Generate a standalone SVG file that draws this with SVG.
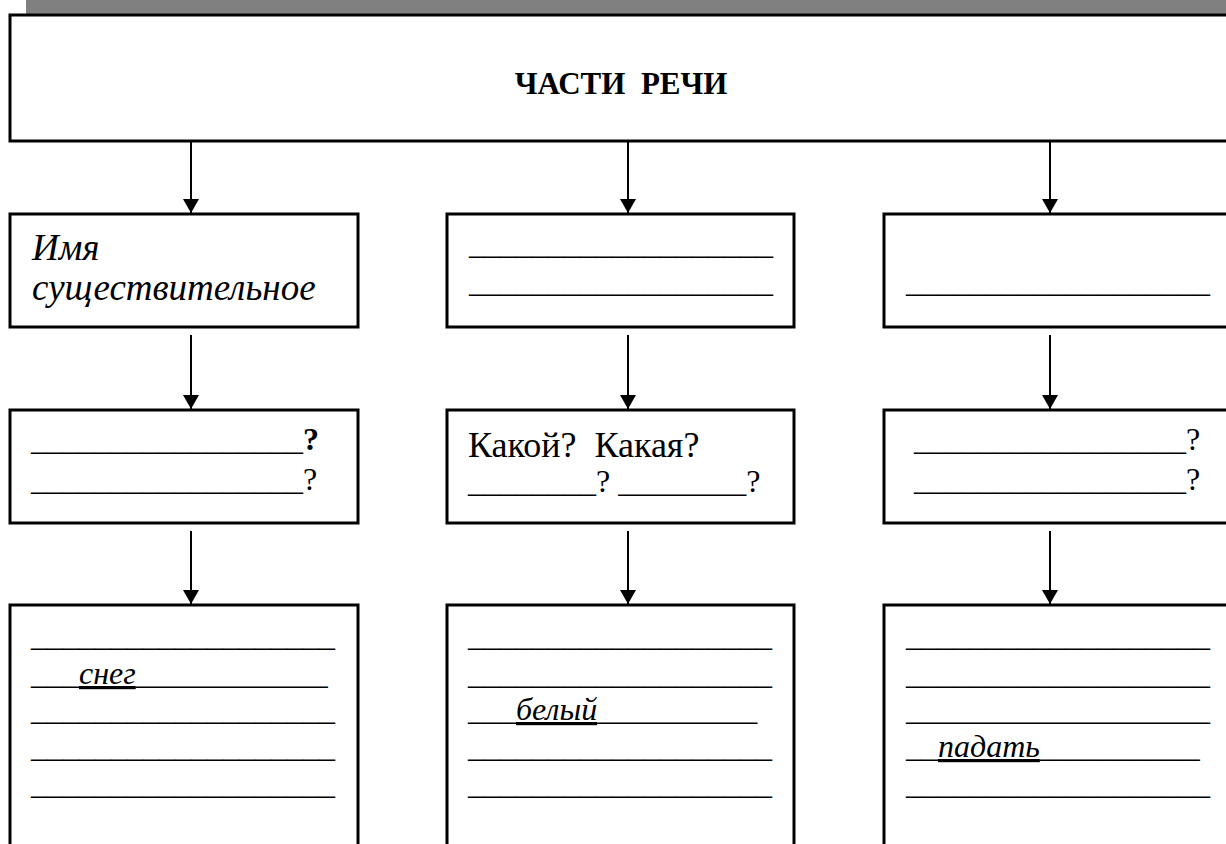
<svg xmlns="http://www.w3.org/2000/svg" width="1226" height="844" viewBox="0 0 1226 844">
<defs>
<style>
.box{fill:#fff;stroke:#000;stroke-width:3}
.conn{stroke:#000;stroke-width:2;fill:none}
.w{font-style:italic;text-decoration:underline}
</style>
<marker id="ah" viewBox="0 0 14 16" refX="14" refY="8" markerWidth="14" markerHeight="16" markerUnits="userSpaceOnUse" orient="auto">
<path d="M0,0 L14,8 L0,16 z" fill="#000"/>
</marker>
</defs>
<rect x="0" y="0" width="1226" height="844" fill="#fff"/>
<rect x="26" y="0" width="1200" height="14" fill="#808080"/>

<g id="root">
<rect class="box" x="10" y="15" width="1240" height="126"/>
<text font-family="'Liberation Serif', serif" font-size="31" font-weight="bold" x="621" y="94" text-anchor="middle" xml:space="preserve">ЧАСТИ  РЕЧИ</text>
</g>

<g id="noun">
<rect class="box" x="10" y="214" width="348" height="113"/>
<text font-family="'Liberation Serif', serif" font-style="italic" font-size="37" x="32" y="260">Имя</text>
<text font-family="'Liberation Serif', serif" font-style="italic" font-size="37" x="32" y="300">существительное</text>
</g>
<g id="adj">
<rect class="box" x="447" y="214" width="347" height="113"/>
<text font-family="'Liberation Serif', serif" font-size="32" x="469" y="254">___________________</text>
<text font-family="'Liberation Serif', serif" font-size="32" x="469" y="292">___________________</text>
</g>
<g id="verb">
<rect class="box" x="884" y="214" width="356" height="113"/>
<text font-family="'Liberation Serif', serif" font-size="32" x="906" y="292">___________________</text>
</g>

<g id="noun-q">
<rect class="box" x="10" y="410" width="348" height="113"/>
<text font-family="'Liberation Serif', serif" font-size="32" x="31" y="450">_________________<tspan font-weight="bold">?</tspan></text>
<text font-family="'Liberation Serif', serif" font-size="32" x="31" y="490">_________________?</text>
</g>
<g id="adj-q">
<rect class="box" x="447" y="410" width="347" height="113"/>
<text font-family="'Liberation Serif', serif" font-size="36" x="468" y="457" xml:space="preserve">Какой?  Какая?</text>
<text font-family="'Liberation Serif', serif" font-size="32" x="468" y="492">________? ________?</text>
</g>
<g id="verb-q">
<rect class="box" x="884" y="410" width="356" height="113"/>
<text font-family="'Liberation Serif', serif" font-size="32" x="914" y="450">_________________?</text>
<text font-family="'Liberation Serif', serif" font-size="32" x="914" y="490">_________________?</text>
</g>

<g id="noun-ex">
<rect class="box" x="10" y="605" width="348" height="260"/>
<text font-family="'Liberation Serif', serif" font-size="32" x="31" y="646">___________________</text>
<text font-family="'Liberation Serif', serif" font-size="32" x="31" y="684">___<tspan class="w">снег</tspan>____________</text>
<text font-family="'Liberation Serif', serif" font-size="32" x="31" y="720">___________________</text>
<text font-family="'Liberation Serif', serif" font-size="32" x="31" y="757">___________________</text>
<text font-family="'Liberation Serif', serif" font-size="32" x="31" y="794">___________________</text>
</g>
<g id="adj-ex">
<rect class="box" x="447" y="605" width="347" height="260"/>
<text font-family="'Liberation Serif', serif" font-size="32" x="468" y="646">___________________</text>
<text font-family="'Liberation Serif', serif" font-size="32" x="468" y="684">___________________</text>
<text font-family="'Liberation Serif', serif" font-size="32" x="468" y="720">___<tspan class="w">белый</tspan>__________</text>
<text font-family="'Liberation Serif', serif" font-size="32" x="468" y="757">___________________</text>
<text font-family="'Liberation Serif', serif" font-size="32" x="468" y="794">___________________</text>
</g>
<g id="verb-ex">
<rect class="box" x="884" y="605" width="356" height="260"/>
<text font-family="'Liberation Serif', serif" font-size="32" x="906" y="646">___________________</text>
<text font-family="'Liberation Serif', serif" font-size="32" x="906" y="684">___________________</text>
<text font-family="'Liberation Serif', serif" font-size="32" x="906" y="720">___________________</text>
<text font-family="'Liberation Serif', serif" font-size="32" x="906" y="757">__<tspan class="w">падать</tspan>__________</text>
<text font-family="'Liberation Serif', serif" font-size="32" x="906" y="794">___________________</text>
</g>

<g id="connectors">
<line class="conn" x1="191" y1="141" x2="191" y2="213" marker-end="url(#ah)"/>
<line class="conn" x1="628" y1="141" x2="628" y2="213" marker-end="url(#ah)"/>
<line class="conn" x1="1050" y1="141" x2="1050" y2="213" marker-end="url(#ah)"/>
<line class="conn" x1="191" y1="335" x2="191" y2="409" marker-end="url(#ah)"/>
<line class="conn" x1="628" y1="335" x2="628" y2="409" marker-end="url(#ah)"/>
<line class="conn" x1="1050" y1="335" x2="1050" y2="409" marker-end="url(#ah)"/>
<line class="conn" x1="191" y1="531" x2="191" y2="604" marker-end="url(#ah)"/>
<line class="conn" x1="628" y1="531" x2="628" y2="604" marker-end="url(#ah)"/>
<line class="conn" x1="1050" y1="531" x2="1050" y2="604" marker-end="url(#ah)"/>
</g>
</svg>
